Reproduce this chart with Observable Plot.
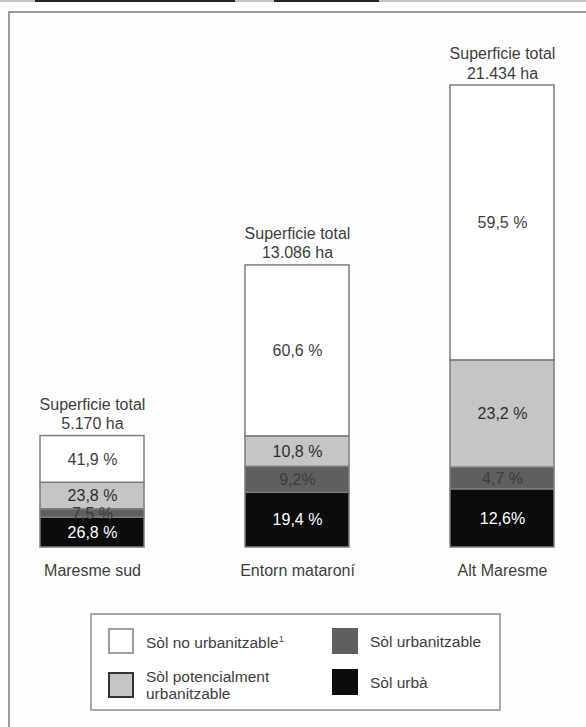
<!DOCTYPE html>
<html>
<head>
<meta charset="utf-8">
<script src="https://cdn.jsdelivr.net/npm/d3@7"></script>
<script src="https://cdn.jsdelivr.net/npm/@observablehq/plot@0.6"></script>
<style>
  body { margin: 0; background: #fff; }
  #page {
    position: relative; width: 586px; height: 727px; overflow: hidden;
    background: #fdfdfd; font-family: "Liberation Sans", Arial, sans-serif; color: #3d3d3d;
  }
  #rule { position: absolute; left: 0; top: 0; width: 586px; height: 2px; background: #c4c4c4; }
  .rule-dark { position: absolute; top: 0; height: 2px; background: #222; }
  #frame {
    position: absolute; left: 8px; top: 11px; width: 700px; height: 800px;
    border-left: 2px solid #9a9a9a; border-top: 2px solid #9a9a9a;
  }
  #chart { position: absolute; left: 0; top: 0; }
  #legend {
    position: absolute; left: 90px; top: 613px; width: 407px; height: 94px;
    border: 2px solid #a8a8a8; background: #fff;
  }
  .item { position: absolute; display: flex; align-items: center; font-size: 15.5px; line-height: 17px; color: #3d3d3d; }
  .sw { width: 22px; height: 22px; margin-right: 12px; flex: none; }
</style>
</head>
<body>
<div id="page">
  <div id="rule"></div>
  <div class="rule-dark" style="left:35px;width:200px"></div>
  <div class="rule-dark" style="left:274px;width:105px"></div>
  <div id="frame"></div>
  <div id="chart"></div>
  <div id="legend"></div>
</div>
<script>
// Regions and their total surface (ha)
const regions = ["Maresme sud", "Entorn mataroní", "Alt Maresme"];
const totals = [5170, 13086, 21434];
const totalLabels = ["5.170 ha", "13.086 ha", "21.434 ha"];

// Land classes, stacked from the bottom up
const landTypes = ["Sòl urbà", "Sòl urbanitzable", "Sòl potencialment urbanitzable", "Sòl no urbanitzable"];
const typeFills = ["#0c0c0c", "#5f5f5f", "#c5c5c5", "#ffffff"];
const typeText = ["#ffffff", "#3c3c3c", "#2e2e2e", "#404040"];

// Share of each class per region (%)
const solUrba = [26.8, 19.4, 12.6];
const solUrbanitzable = [7.5, 9.2, 4.7];
const solPotencial = [23.8, 10.8, 23.2];
const solNoUrbanitzable = [41.9, 60.6, 59.5];

// Labels printed without a space before the % sign
const tightLabels = [["Entorn mataroní", "Sòl urbanitzable"], ["Alt Maresme", "Sòl urbà"]];

const shares = [solUrba, solUrbanitzable, solPotencial, solNoUrbanitzable];

const rows = [];
regions.forEach((region, i) => {
  landTypes.forEach((type, k) => {
    const pct = shares[k][i];
    const tight = tightLabels.some(([r, t]) => r === region && t === type);
    rows.push({
      region, type, pct,
      ha: totals[i] * pct / 100,
      label: pct.toFixed(1).replace(".", ",") + (tight ? "%" : " %"),
      fill: typeFills[k],
      ink: typeText[k]
    });
  });
});

const totalRows = regions.map((region, i) => ({
  region, total: totals[i], label: "Superficie total\n" + totalLabels[i]
}));

const chart = Plot.plot({
  width: 586,
  height: 600,
  margin: 0,
  style: { background: "transparent", fontFamily: "Liberation Sans, Arial, sans-serif" },
  x: { domain: regions, range: [39, 555], paddingInner: 0.494, paddingOuter: 0, axis: null },
  y: { domain: [0, 21434], range: [547, 85], axis: null },
  color: { type: "identity" },
  marks: [
    Plot.barY(rows, Plot.stackY({
      x: "region", y: "ha", z: "type", order: landTypes,
      fill: "fill", stroke: "#7c7c7c", strokeWidth: 1.5
    })),
    Plot.text(rows, Plot.stackY({
      x: "region", y: "ha", z: "type", order: landTypes,
      text: "label", fill: "ink", fontSize: 16
    })),
    Plot.text(totalRows, {
      x: "region", y: "total", text: "label",
      lineAnchor: "bottom", dy: -7, lineHeight: 1.2, fontSize: 16, fill: "#3d3d3d"
    }),
    Plot.text(totalRows, {
      x: "region", y: () => 0, text: "region",
      lineAnchor: "top", dy: 17, fontSize: 16, fill: "#3d3d3d"
    })
  ]
});
document.getElementById("chart").appendChild(chart);

// Legend
const legendItems = [
  { type: "Sòl no urbanitzable", html: "Sòl no urbanitzable<sup style=\"font-size:9px\">1</sup>", left: 16, top: 13, border: "2px solid #9c9c9c" },
  { type: "Sòl potencialment urbanitzable", html: "Sòl potencialment<br>urbanitzable", left: 16, top: 53, border: "2px solid #333" },
  { type: "Sòl urbanitzable", html: "Sòl urbanitzable", left: 240, top: 13, border: "2px solid #5f5f5f" },
  { type: "Sòl urbà", html: "Sòl urbà", left: 240, top: 54, border: "2px solid #0c0c0c" }
];
const legend = document.getElementById("legend");
legendItems.forEach(it => {
  const k = landTypes.indexOf(it.type);
  const d = document.createElement("div");
  d.className = "item";
  d.style.left = it.left + "px";
  d.style.top = it.top + "px";
  d.innerHTML = `<span class="sw" style="background:${typeFills[k]};border:${it.border}"></span><span>${it.html}</span>`;
  legend.appendChild(d);
});
</script>
</body>
</html>
